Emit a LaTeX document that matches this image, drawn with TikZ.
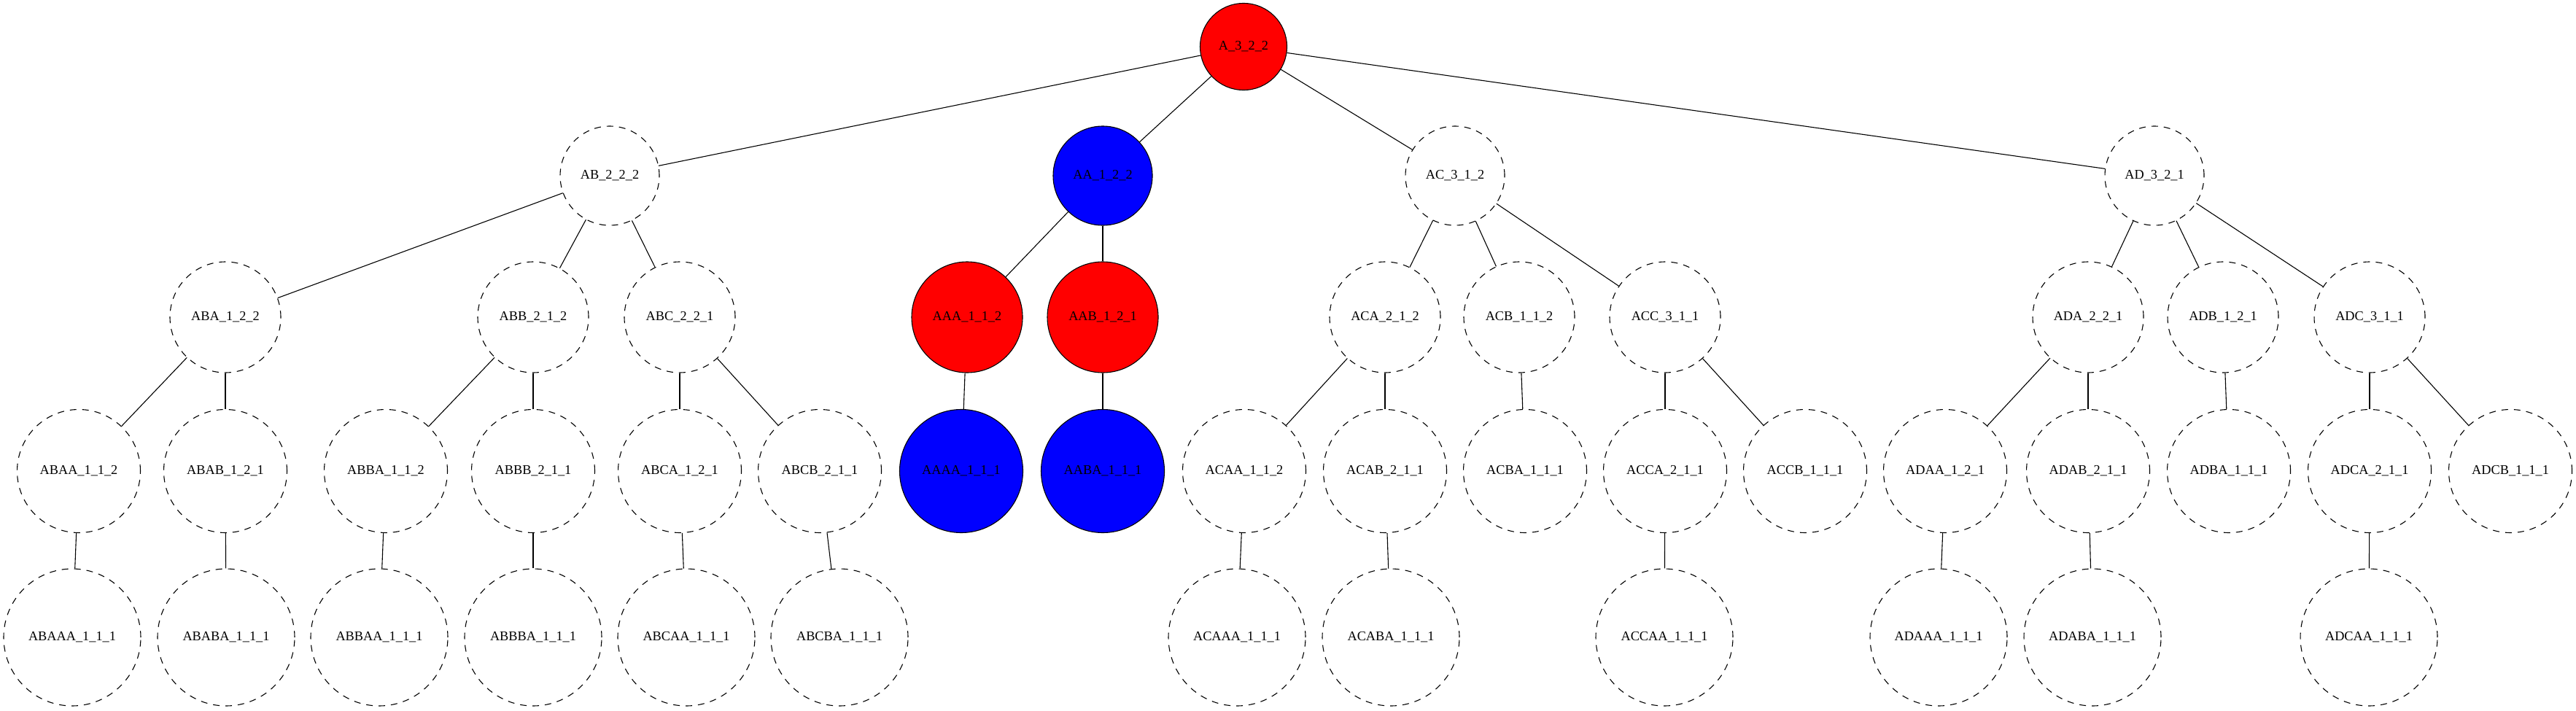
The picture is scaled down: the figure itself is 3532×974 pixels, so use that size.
\documentclass[tikz,border=0pt]{standalone}
\usepackage{fontspec}
\setmainfont{Liberation Serif}
\tikzset{
  gnode/.style={circle, inner sep=0pt, font=\fontsize{18.3}{22}\selectfont, line width=1.1pt},
  dnode/.style={gnode, draw, dash pattern=on 9pt off 8pt},
  rnode/.style={gnode, draw, fill=red},
  bnode/.style={gnode, draw, fill=blue},
  lv0/.style={minimum size=119pt},
  lv1/.style={minimum size=136pt},
  lv2/.style={minimum size=152pt},
  lv3/.style={minimum size=169pt},
  lv4/.style={minimum size=188pt},
  link/.style={line width=1.1pt}
}
\begin{document}
\begin{tikzpicture}[x=1pt,y=-1pt]
\useasboundingbox (0,0) rectangle (3532,974);
% row 0
\node[rnode,lv0] (A) at (1705,64) {A\_3\_2\_2};
% row 1
\node[dnode,lv1] (AB) at (836,241) {AB\_2\_2\_2};
\node[bnode,lv1] (AA) at (1512,241) {AA\_1\_2\_2};
\node[dnode,lv1] (AC) at (1995,241) {AC\_3\_1\_2};
\node[dnode,lv1] (AD) at (2954,241) {AD\_3\_2\_1};
% row 2
\node[dnode,lv2] (ABA) at (309,435) {ABA\_1\_2\_2};
\node[dnode,lv2] (ABB) at (731,435) {ABB\_2\_1\_2};
\node[dnode,lv2] (ABC) at (932,435) {ABC\_2\_2\_1};
\node[rnode,lv2] (AAA) at (1326,435) {AAA\_1\_1\_2};
\node[rnode,lv2] (AAB) at (1512,435) {AAB\_1\_2\_1};
\node[dnode,lv2] (ACA) at (1899,435) {ACA\_2\_1\_2};
\node[dnode,lv2] (ACB) at (2083,435) {ACB\_1\_1\_2};
\node[dnode,lv2] (ACC) at (2283,435) {ACC\_3\_1\_1};
\node[dnode,lv2] (ADA) at (2863,435) {ADA\_2\_2\_1};
\node[dnode,lv2] (ADB) at (3048,435) {ADB\_1\_2\_1};
\node[dnode,lv2] (ADC) at (3249,435) {ADC\_3\_1\_1};
% row 3
\node[dnode,lv3] (ABAA) at (108,646) {ABAA\_1\_1\_2};
\node[dnode,lv3] (ABAB) at (309,646) {ABAB\_1\_2\_1};
\node[dnode,lv3] (ABBA) at (529,646) {ABBA\_1\_1\_2};
\node[dnode,lv3] (ABBB) at (731,646) {ABBB\_2\_1\_1};
\node[dnode,lv3] (ABCA) at (932,646) {ABCA\_1\_2\_1};
\node[dnode,lv3] (ABCB) at (1124,646) {ABCB\_2\_1\_1};
\node[bnode,lv3] (AAAA) at (1318,646) {AAAA\_1\_1\_1};
\node[bnode,lv3] (AABA) at (1512,646) {AABA\_1\_1\_1};
\node[dnode,lv3] (ACAA) at (1706,646) {ACAA\_1\_1\_2};
\node[dnode,lv3] (ACAB) at (1899,646) {ACAB\_2\_1\_1};
\node[dnode,lv3] (ACBA) at (2091,646) {ACBA\_1\_1\_1};
\node[dnode,lv3] (ACCA) at (2283,646) {ACCA\_2\_1\_1};
\node[dnode,lv3] (ACCB) at (2475,646) {ACCB\_1\_1\_1};
\node[dnode,lv3] (ADAA) at (2667,646) {ADAA\_1\_2\_1};
\node[dnode,lv3] (ADAB) at (2863,646) {ADAB\_2\_1\_1};
\node[dnode,lv3] (ADBA) at (3056,646) {ADBA\_1\_1\_1};
\node[dnode,lv3] (ADCA) at (3249,646) {ADCA\_2\_1\_1};
\node[dnode,lv3] (ADCB) at (3442,646) {ADCB\_1\_1\_1};
% row 4
\node[dnode,lv4] (ABAAA) at (99,874) {ABAAA\_1\_1\_1};
\node[dnode,lv4] (ABABA) at (310,874) {ABABA\_1\_1\_1};
\node[dnode,lv4] (ABBAA) at (520,874) {ABBAA\_1\_1\_1};
\node[dnode,lv4] (ABBBA) at (731,874) {ABBBA\_1\_1\_1};
\node[dnode,lv4] (ABCAA) at (941,874) {ABCAA\_1\_1\_1};
\node[dnode,lv4] (ABCBA) at (1151,874) {ABCBA\_1\_1\_1};
\node[dnode,lv4] (ACAAA) at (1696,874) {ACAAA\_1\_1\_1};
\node[dnode,lv4] (ACABA) at (1907,874) {ACABA\_1\_1\_1};
\node[dnode,lv4] (ACCAA) at (2282,874) {ACCAA\_1\_1\_1};
\node[dnode,lv4] (ADAAA) at (2658,874) {ADAAA\_1\_1\_1};
\node[dnode,lv4] (ADABA) at (2869,874) {ADABA\_1\_1\_1};
\node[dnode,lv4] (ADCAA) at (3248,874) {ADCAA\_1\_1\_1};
% edges
\draw[link] (A) -- (AB);
\draw[link] (A) -- (AA);
\draw[link] (A) -- (AC);
\draw[link] (A) -- (AD);
\draw[link] (AB) -- (ABA);
\draw[link] (AB) -- (ABB);
\draw[link] (AB) -- (ABC);
\draw[link] (AA) -- (AAA);
\draw[link] (AA) -- (AAB);
\draw[link] (AC) -- (ACA);
\draw[link] (AC) -- (ACB);
\draw[link] (AC) -- (ACC);
\draw[link] (AD) -- (ADA);
\draw[link] (AD) -- (ADB);
\draw[link] (AD) -- (ADC);
\draw[link] (ABA) -- (ABAA);
\draw[link] (ABA) -- (ABAB);
\draw[link] (ABB) -- (ABBA);
\draw[link] (ABB) -- (ABBB);
\draw[link] (ABC) -- (ABCA);
\draw[link] (ABC) -- (ABCB);
\draw[link] (AAA) -- (AAAA);
\draw[link] (AAB) -- (AABA);
\draw[link] (ACA) -- (ACAA);
\draw[link] (ACA) -- (ACAB);
\draw[link] (ACB) -- (ACBA);
\draw[link] (ACC) -- (ACCA);
\draw[link] (ACC) -- (ACCB);
\draw[link] (ADA) -- (ADAA);
\draw[link] (ADA) -- (ADAB);
\draw[link] (ADB) -- (ADBA);
\draw[link] (ADC) -- (ADCA);
\draw[link] (ADC) -- (ADCB);
\draw[link] (ABAA) -- (ABAAA);
\draw[link] (ABAB) -- (ABABA);
\draw[link] (ABBA) -- (ABBAA);
\draw[link] (ABBB) -- (ABBBA);
\draw[link] (ABCA) -- (ABCAA);
\draw[link] (ABCB) -- (ABCBA);
\draw[link] (ACAA) -- (ACAAA);
\draw[link] (ACAB) -- (ACABA);
\draw[link] (ACCA) -- (ACCAA);
\draw[link] (ADAA) -- (ADAAA);
\draw[link] (ADAB) -- (ADABA);
\draw[link] (ADCA) -- (ADCAA);
\end{tikzpicture}
\end{document}
